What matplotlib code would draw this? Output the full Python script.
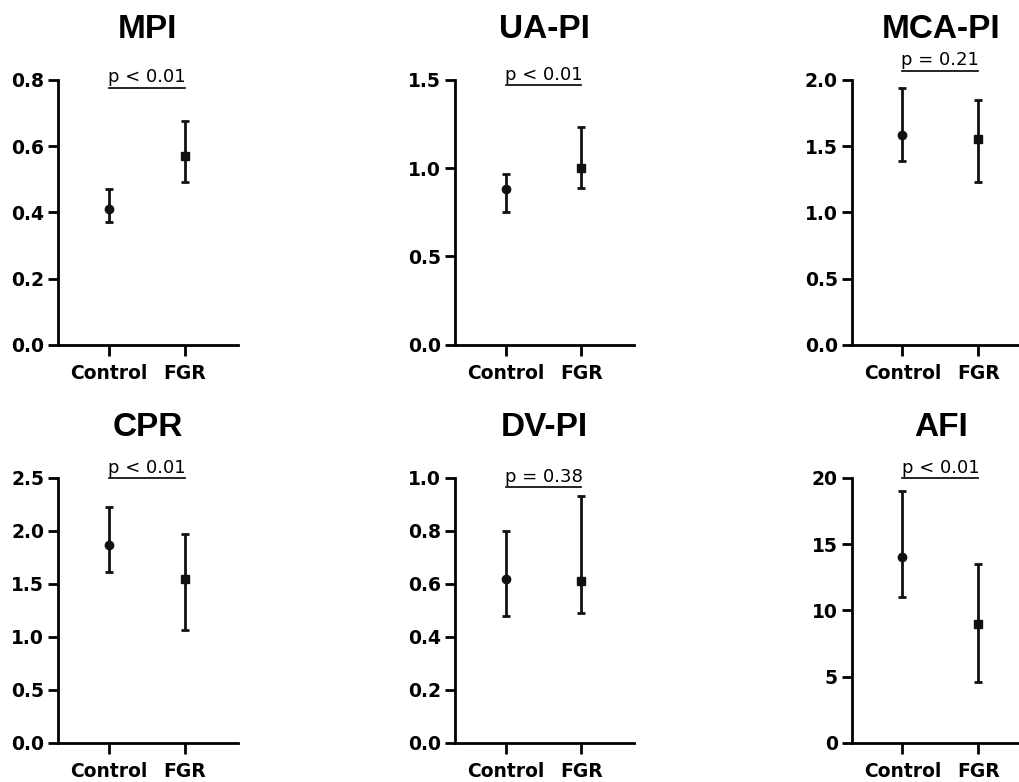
import matplotlib
matplotlib.use("Agg")
import matplotlib.pyplot as plt

plt.rcParams['font.family'] = ['Liberation Sans', 'DejaVu Sans']

titulos = ["MPI", "UA-PI", "MCA-PI", "CPR", "DV-PI", "AFI"]
grupos = ["Control", "FGR"]
p_textos = ["p < 0.01", "p < 0.01", "p = 0.21", "p < 0.01", "p = 0.38", "p < 0.01"]

# median, lower, upper for each group
controle_med = [0.41, 0.88, 1.58, 1.87, 0.62, 14.0]
controle_inf = [0.37, 0.75, 1.39, 1.61, 0.48, 11.0]
controle_sup = [0.47, 0.965, 1.94, 2.22, 0.80, 19.0]
fgr_med = [0.57, 1.00, 1.55, 1.55, 0.61, 9.0]
fgr_inf = [0.49, 0.885, 1.23, 1.06, 0.49, 4.6]
fgr_sup = [0.675, 1.23, 1.85, 1.97, 0.93, 13.5]

y_max = [0.8, 1.5, 2.0, 2.5, 1.0, 20]
y_passo = [0.2, 0.5, 0.5, 0.5, 0.2, 5]
y_fmt = ["%.1f", "%.1f", "%.1f", "%.1f", "%.1f", "%d"]

# height of the p-value bracket, in axes fraction
altura_p = [0.97, 0.98, 1.034, 1.0, 0.965, 1.0]

fig = plt.figure(figsize=(10.2, 7.82), dpi=100)

lefts = [0.057, 0.446, 0.835]
bottoms = [0.559, 0.050]
w, h = 0.176, 0.339

for i in range(6):
    linha, col = divmod(i, 3)
    ax = fig.add_axes([lefts[col], bottoms[linha], w, h])

    for j, (med, inf, sup, mk) in enumerate([
            (controle_med[i], controle_inf[i], controle_sup[i], 'o'),
            (fgr_med[i], fgr_inf[i], fgr_sup[i], 's')]):
        ax.errorbar([j], [med], yerr=[[med - inf], [sup - med]],
                    fmt=mk, color='#111111', markersize=6, elinewidth=2,
                    capsize=2.8, capthick=2, clip_on=False)

    ax.set_xlim(-0.67, 1.7)
    ax.set_ylim(0, y_max[i])
    n = int(round(y_max[i] / y_passo[i]))
    ticks = [k * y_passo[i] for k in range(n + 1)]
    ax.set_yticks(ticks)
    ax.set_yticklabels([y_fmt[i] % t for t in ticks], fontweight='bold',
                       fontsize=13.5, family='DejaVu Sans')
    ax.set_xticks([0, 1])
    ax.set_xticklabels(grupos, fontweight='bold', fontsize=13.5, family='DejaVu Sans')

    for s in ['top', 'right']:
        ax.spines[s].set_visible(False)
    for s in ['left', 'bottom']:
        ax.spines[s].set_linewidth(2)
    ax.tick_params(axis='y', width=2, length=7, direction='out', pad=3)
    ax.tick_params(axis='x', width=2, length=8, direction='out', pad=6)

    ax.set_title(titulos[i], fontsize=24, fontweight='bold', pad=30)

    # p-value bracket
    hp = altura_p[i]
    ax.plot([0, 1], [hp, hp], color='black', linewidth=1.2,
            transform=ax.get_xaxis_transform(), clip_on=False)
    ax.text(0.5, hp + 0.02, p_textos[i], ha='center', va='baseline', fontsize=13,
            family='DejaVu Sans', transform=ax.get_xaxis_transform())

fig.savefig("out.png", dpi=100)
